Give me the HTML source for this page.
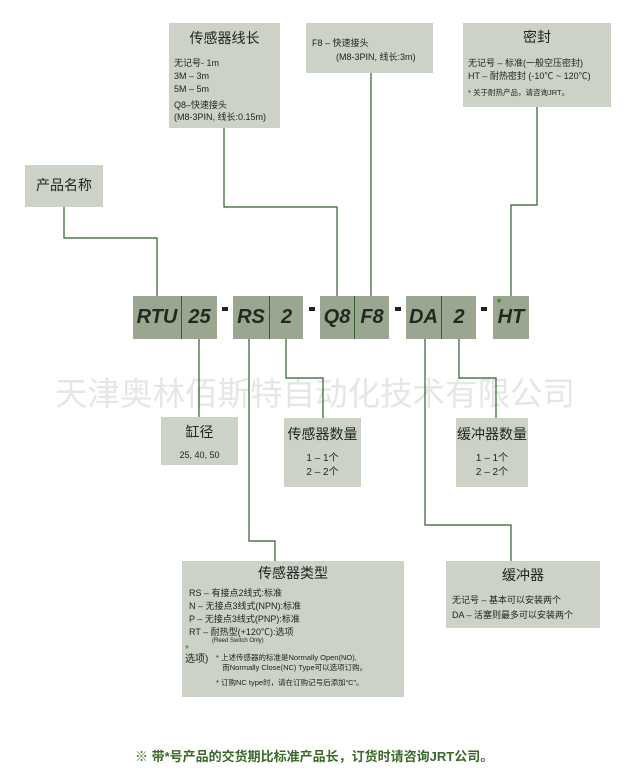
<!DOCTYPE html>
<html><head><meta charset="utf-8"><style>
*{margin:0;padding:0;box-sizing:border-box}
body{width:635px;height:778px;background:#fff;position:relative;overflow:hidden;font-family:"Liberation Sans","Noto Sans CJK SC",sans-serif;color:#222}
.b{position:absolute;background:#ccd3c6}
.c{position:absolute;background:#9aa690;font-weight:bold;font-style:italic;font-size:20px;color:#1e2a1e;line-height:43px;text-align:center}
.t{position:absolute;font-size:9px;line-height:12px;white-space:nowrap}
.h{font-size:14px;text-align:center}
.dash{position:absolute;top:307px;width:6px;height:4px;background:#222}
svg{position:absolute;left:0;top:0}
</style></head><body>
<div style="position:absolute;left:55px;top:376px;font-size:32.5px;line-height:36px;color:#e6e6e6;white-space:nowrap">天津奥林佰斯特自动化技术有限公司</div>
<svg width="635" height="778"><g stroke="#2f5f2f" stroke-width="1.2" fill="none">
<polyline points="64,207 64,238 157,238 157,296"/>
<polyline points="224,128 224,207 337,207 337,296"/>
<polyline points="371,73 371,296"/>
<polyline points="537,107 537,205 511,205 511,296"/>
<polyline points="199,339 199,417"/>
<polyline points="249,339 249,541 275,541 275,561"/>
<polyline points="286,339 286,378 323,378 323,418"/>
<polyline points="425,339 425,525 511,525 511,561"/>
<polyline points="459,339 459,378 496,378 496,418"/>
</g></svg>
<div class="b" style="left:25px;top:165px;width:78px;height:42px"><div class="t h" style="left:0;width:78px;top:14px">产品名称</div></div>
<div class="b" style="left:169px;top:23px;width:111px;height:105px">
<div class="t h" style="left:0;width:111px;top:9px">传感器线长</div>
<div class="t" style="left:5px;top:34px;line-height:13px">无记号- 1m<br>3M – 3m<br>5M – 5m</div>
<div class="t" style="left:5px;top:76px">Q8–快速接头<br>(M8-3PIN, 线长:0.15m)</div></div>
<div class="b" style="left:306px;top:23px;width:127px;height:50px">
<div class="t" style="left:6px;top:14px">F8 –  快速接头</div>
<div class="t" style="left:30px;top:28px">(M8-3PIN, 线长:3m)</div></div>
<div class="b" style="left:463px;top:23px;width:148px;height:84px">
<div class="t h" style="left:0;width:148px;top:8px">密封</div>
<div class="t" style="left:5px;top:34px;line-height:13px">无记号 – 标准(一般空压密封)<br>HT – 耐热密封 (-10℃ ~ 120℃)</div>
<div class="t" style="left:5px;top:64px;font-size:7.5px">* 关于耐热产品，请咨询JRT。</div></div>
<div class="c" style="left:133px;top:296px;width:84px;height:43px"><span style="position:absolute;left:0;width:48px">RTU</span><span style="position:absolute;left:48px;width:1px;top:0;height:43px;background:#2f5f2f"></span><span style="position:absolute;left:49px;width:35px">25</span></div>
<div class="dash" style="left:222px"></div>
<div class="c" style="left:233px;top:296px;width:70px;height:43px"><span style="position:absolute;left:0;width:36px">RS</span><span style="position:absolute;left:36px;width:1px;top:0;height:43px;background:#2f5f2f"></span><span style="position:absolute;left:37px;width:33px">2</span></div>
<div class="dash" style="left:309px"></div>
<div class="c" style="left:320px;top:296px;width:69px;height:43px"><span style="position:absolute;left:0;width:34px">Q8</span><span style="position:absolute;left:34px;width:1px;top:0;height:43px;background:#2f5f2f"></span><span style="position:absolute;left:35px;width:34px">F8</span></div>
<div class="dash" style="left:395px"></div>
<div class="c" style="left:406px;top:296px;width:70px;height:43px"><span style="position:absolute;left:0;width:35px">DA</span><span style="position:absolute;left:35px;width:1px;top:0;height:43px;background:#2f5f2f"></span><span style="position:absolute;left:36px;width:34px">2</span></div>
<div class="dash" style="left:481px"></div>
<div class="c" style="left:493px;top:296px;width:36px;height:43px">HT<span style="position:absolute;left:4px;top:-14px;font-size:11px;color:#3a7a2a;font-style:normal">*</span></div>
<div class="b" style="left:161px;top:417px;width:77px;height:48px">
<div class="t h" style="left:0;width:77px;top:9px">缸径</div>
<div class="t" style="left:0;width:77px;text-align:center;top:32px">25, 40, 50</div></div>
<div class="b" style="left:284px;top:418px;width:77px;height:69px">
<div class="t h" style="left:0;width:77px;top:10px">传感器数量</div>
<div class="t" style="left:0;width:77px;text-align:center;top:34px;font-size:10px;line-height:14px">1 – 1个<br>2 – 2个</div></div>
<div class="b" style="left:456px;top:418px;width:72px;height:69px">
<div class="t h" style="left:0;width:72px;top:10px">缓冲器数量</div>
<div class="t" style="left:0;width:72px;text-align:center;top:34px;font-size:10px;line-height:14px">1 – 1个<br>2 – 2个</div></div>
<div class="b" style="left:182px;top:561px;width:222px;height:136px">
<div class="t h" style="left:0;width:222px;top:6px">传感器类型</div>
<div class="t" style="left:7px;top:26px;line-height:13px">RS – 有接点2线式:标准<br>N –  无接点3线式(NPN):标准<br>P –  无接点3线式(PNP):标准<br>RT – 耐热型(+120℃):选项</div>
<div class="t" style="left:30px;top:77px;font-size:6px;line-height:7px">(Reed Switch Only)</div>
<div class="t" style="left:3px;top:84px;font-size:10px;line-height:10px"><span style="color:#3a7a2a">*</span><br>选项)</div>
<div class="t" style="left:34px;top:92px;font-size:7.5px;line-height:10px">* 上述传感器的标准是Normally Open(NO),<br>&nbsp;&nbsp;&nbsp;而Normally Close(NC) Type可以选项订购。</div>
<div class="t" style="left:34px;top:116px;font-size:7.5px">* 订购NC type时，请在订购记号后添加“C”。</div></div>
<div class="b" style="left:446px;top:561px;width:154px;height:67px">
<div class="t h" style="left:0;width:154px;top:8px">缓冲器</div>
<div class="t" style="left:6px;top:32px;line-height:15px">无记号 – 基本可以安装两个<br>DA – 活塞则最多可以安装两个</div></div>
<div class="t" style="left:135px;top:749px;font-size:13px;line-height:16px;font-weight:bold;color:#3a6a2a">※  带*号产品的交货期比标准产品长，订货时请咨询JRT公司。</div>
</body></html>
